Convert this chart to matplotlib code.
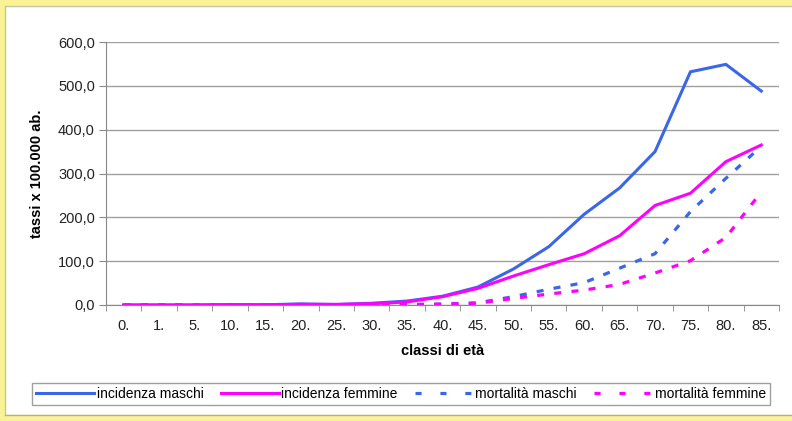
import matplotlib.pyplot as plt
from matplotlib.patches import Rectangle
from matplotlib.lines import Line2D
from matplotlib.ticker import FixedLocator, FuncFormatter
import numpy as np

plt.rcParams['font.family'] = ['Liberation Sans', 'DejaVu Sans']

# Data (age classes and rates per 100.000 inhabitants)
classi = ['0.', '1.', '5.', '10.', '15.', '20.', '25.', '30.', '35.',
          '40.', '45.', '50.', '55.', '60.', '65.', '70.', '75.', '80.', '85.']
inc_maschi = [0.0, 0.0, 0.0, 0.5, 0.5, 2.5, 1.0, 4.0, 9.0, 20.0, 41.0, 82.0,
              133.0, 207.0, 267.0, 350.0, 532.0, 549.0, 488.0]
inc_femmine = [0.0, 0.0, 0.0, 1.0, 0.5, 1.5, 1.5, 3.0, 7.0, 19.0, 38.0, 66.0,
               92.0, 117.0, 158.0, 227.0, 255.0, 327.0, 365.0]
mort_maschi = [0.0, 0.0, 0.0, 0.0, 0.0, 0.0, 0.0, 0.5, 1.0, 2.0, 5.0, 19.0,
               36.0, 51.0, 84.0, 117.0, 213.0, 289.0, 362.0]
mort_femmine = [0.0, 0.0, 0.0, 0.0, 0.0, 0.0, 0.0, 0.5, 1.0, 2.0, 4.0, 15.0,
                25.0, 34.0, 47.0, 73.0, 101.0, 154.0, 258.0]
etichette = ['incidenza maschi', 'incidenza femmine', 'mortalità maschi', 'mortalità femmine']

blue = '#3a66e8'
magenta = '#ff00ff'

fig = plt.figure(figsize=(7.92, 4.21), dpi=100)
fig.patch.set_facecolor('white')

# yellow frame (top, left, bottom)
yellow = '#faf396'
W, H = 792, 421
for (x0, y0, w, h) in [(0, 415, 792, 6), (0, 0, 5, 421), (0, 0, 792, 6)]:
    fig.patches.append(Rectangle((x0 / W, y0 / H), w / W, h / H,
                                 transform=fig.transFigure, color=yellow, zorder=0))
fig.add_artist(Line2D([5 / W, 1], [415 / H, 415 / H], transform=fig.transFigure,
                      color='#c8c8a0', lw=1))
fig.add_artist(Line2D([5 / W, 5 / W], [6 / H, 415 / H], transform=fig.transFigure,
                      color='#c8c8a0', lw=1))
fig.add_artist(Line2D([5 / W, 1], [6 / H, 6 / H], transform=fig.transFigure,
                      color='#b0b090', lw=1))

ax = fig.add_axes([106 / W, 1 - 305 / H, (779 - 106) / W, (305 - 42) / H])

x = np.arange(len(classi))
ax.plot(x, inc_maschi, color=blue, lw=2.2, zorder=3)
ax.plot(x, inc_femmine, color=magenta, lw=2.2, zorder=3)
ax.plot(x, mort_maschi, color=blue, lw=2.3, dashes=(2.2, 3.2), zorder=3)
ax.plot(x, mort_femmine, color=magenta, lw=2.3, dashes=(2.2, 3.2), zorder=3)

ax.set_xlim(-0.5, len(classi) - 0.5)
ax.set_ylim(0, 600)
ax.set_yticks(np.arange(0, 601, 100))
ax.yaxis.set_major_formatter(FuncFormatter(lambda v, p: f'{v:.1f}'.replace('.', ',')))
ax.yaxis.grid(True, color='#a0a0a0', lw=1)
ax.set_axisbelow(True)

ax.set_xticks(x)
ax.set_xticklabels(classi)
ax.xaxis.set_minor_locator(FixedLocator(np.arange(-0.5, len(classi), 1)))
ax.tick_params(axis='x', which='major', length=0, pad=10, labelsize=10.5, colors='#222')
ax.tick_params(axis='x', which='minor', length=4, color='#888', direction='out')
ax.tick_params(axis='y', length=5, color='#888', labelsize=10.5, colors='#222', pad=3)

for s in ['top', 'right']:
    ax.spines[s].set_visible(False)
for s in ['left', 'bottom']:
    ax.spines[s].set_color('#888')

ax.set_xlabel('classi di età', fontsize=10.5, fontweight='bold', labelpad=8)
ax.set_ylabel('tassi x 100.000 ab.', fontsize=10.5, fontweight='bold', labelpad=10)

# legend handles (Excel draws sparser dashes in the legend)
handles = [Line2D([], [], color=blue, lw=2.2),
           Line2D([], [], color=magenta, lw=2.2),
           Line2D([], [], color=blue, lw=2.3, dashes=(1.9, 5.9)),
           Line2D([], [], color=magenta, lw=2.3, dashes=(1.9, 5.9))]
leg = fig.legend(handles, etichette, loc='center', ncol=4,
                 bbox_to_anchor=(401 / W, 1 - 394 / H),
                 fontsize=10, handlelength=4.2, handletextpad=0.15,
                 columnspacing=1.25, frameon=True, fancybox=False,
                 borderaxespad=0, borderpad=0.3)
leg.get_frame().set_edgecolor('#888')
leg.get_frame().set_linewidth(1)

fig.savefig('out.png', dpi=100)
